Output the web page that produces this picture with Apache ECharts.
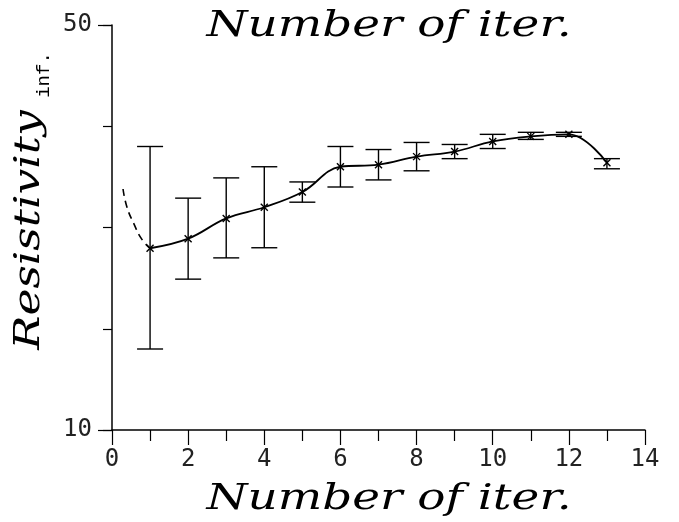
<!DOCTYPE html>
<html>
<head>
<meta charset="utf-8">
<script src="https://cdn.jsdelivr.net/npm/echarts@6/dist/echarts.min.js"></script>
<style>
    html, body { margin: 0; padding: 0; background: #fff; }
    #chart { width: 679px; height: 522px; }
</style>
</head>
<body>
<div id="chart"></div>
<script>
// 迭代次数和电阻率
var iters = [1, 2, 3, 4, 5, 6, 7, 8, 9, 10, 11, 12, 13];
var resist = [27.95, 28.9, 30.9, 32.0, 33.5, 36.0, 36.2, 37.0, 37.5, 38.5, 39.0, 39.2, 36.4];
var errLow = [18.0, 24.9, 27.0, 28.0, 32.5, 34.0, 34.7, 35.6, 36.8, 37.8, 38.7, 39.0, 35.8];
var errHigh = [38.0, 32.9, 34.9, 36.0, 34.5, 38.0, 37.7, 38.4, 38.2, 39.2, 39.4, 39.4, 36.8];
// 虚线外推部分
var extrapX = [0.29, 0.39, 0.57, 0.79, 1];
var extrapY = [33.8, 32.05, 30.4, 28.8, 27.95];

var titleText = 'Number of iter.';
var yName = 'Resistivity';
var ySub = 'inf.';

var serifFont = 'italic 35px "DejaVu Serif"';
var tickFont = 'DejaVu Sans Mono';

var myChart = echarts.init(document.getElementById('chart'));

var mainLine = iters.map(function (x, i) { return [x, resist[i]]; });
var extrapLine = extrapX.map(function (x, i) { return [x, extrapY[i]]; });
var errData = iters.map(function (x, i) { return [x, errLow[i], errHigh[i], resist[i]]; });

myChart.setOption({
    animation: false,
    backgroundColor: '#fff',
    grid: {
        left: 112,
        right: 34,
        top: 25,
        bottom: 92
    },
    xAxis: [{
        type: 'value',
        min: 0,
        max: 14,
        interval: 2,
        axisLine: { show: true, lineStyle: { color: '#000', width: 1.5 } },
        axisTick: { show: true, length: 15, lineStyle: { color: '#000', width: 1.2 } },
        minorTick: { show: true, splitNumber: 2, length: 11, lineStyle: { color: '#000', width: 1.2 } },
        splitLine: { show: false },
        minorSplitLine: { show: false },
        axisLabel: {
            margin: 18,
            fontFamily: tickFont,
            fontSize: 24,
            color: '#222'
        }
    }],
    yAxis: [{
        type: 'value',
        min: 10,
        max: 50,
        interval: 10,
        axisLine: { show: true, lineStyle: { color: '#000', width: 1.5 } },
        axisTick: { show: true, length: 9, lineStyle: { color: '#000', width: 1.2 } },
        splitLine: { show: false },
        axisLabel: {
            margin: 20,
            fontFamily: tickFont,
            fontSize: 24,
            color: '#222',
            formatter: function (v) {
                return (v === 10 || v === 50) ? String(v) : '';
            }
        }
    }, {
        // 两端的长刻度
        type: 'value',
        position: 'left',
        min: 0,
        max: 40,
        interval: 40,
        axisLine: { show: false },
        axisTick: { show: true, length: 14, lineStyle: { color: '#000', width: 1.2 } },
        axisLabel: { show: false },
        splitLine: { show: false }
    }],
    graphic: [{
        type: 'text',
        x: 389,
        y: 27,
        scaleX: 1.34,
        style: { text: titleText, font: serifFont, fill: '#000', align: 'center', verticalAlign: 'middle' }
    }, {
        type: 'text',
        x: 389,
        y: 500,
        scaleX: 1.34,
        style: { text: titleText, font: serifFont, fill: '#000', align: 'center', verticalAlign: 'middle' }
    }, {
        type: 'text',
        x: 30,
        y: 230,
        rotation: Math.PI / 2,
        scaleX: 1.3,
        style: { text: yName, font: serifFont, fill: '#000', align: 'center', verticalAlign: 'middle' }
    }, {
        type: 'text',
        x: 44,
        y: 75,
        rotation: Math.PI / 2,
        style: { text: ySub, font: '19px "Liberation Mono"', fill: '#000', align: 'center', verticalAlign: 'middle' }
    }],
    series: [{
        name: 'fit',
        type: 'line',
        data: mainLine,
        smooth: 0.4,
        symbol: 'none',
        clip: false,
        lineStyle: { color: '#000', width: 1.8 }
    }, {
        name: 'extrap',
        type: 'line',
        data: extrapLine,
        smooth: true,
        symbol: 'none',
        clip: false,
        lineStyle: { color: '#000', width: 1.6, type: [7, 5] }
    }, {
        name: 'err',
        type: 'custom',
        data: errData,
        encode: { x: 0, y: [1, 2] },
        renderItem: function (params, api) {
            var x = api.value(0);
            var lo = api.coord([x, api.value(1)]);
            var hi = api.coord([x, api.value(2)]);
            var mid = api.coord([x, api.value(3)]);
            var hw = 13, m = 3.5;
            var st = { stroke: '#000', lineWidth: 1.4 };
            return {
                type: 'group',
                children: [
                    { type: 'line', shape: { x1: lo[0], y1: lo[1], x2: hi[0], y2: hi[1] }, style: st },
                    { type: 'line', shape: { x1: hi[0] - hw, y1: hi[1], x2: hi[0] + hw, y2: hi[1] }, style: st },
                    { type: 'line', shape: { x1: lo[0] - hw, y1: lo[1], x2: lo[0] + hw, y2: lo[1] }, style: st },
                    { type: 'line', shape: { x1: mid[0] - m, y1: mid[1] - m, x2: mid[0] + m, y2: mid[1] + m }, style: st },
                    { type: 'line', shape: { x1: mid[0] - m, y1: mid[1] + m, x2: mid[0] + m, y2: mid[1] - m }, style: st }
                ]
            };
        }
    }]
});
</script>
</body>
</html>
